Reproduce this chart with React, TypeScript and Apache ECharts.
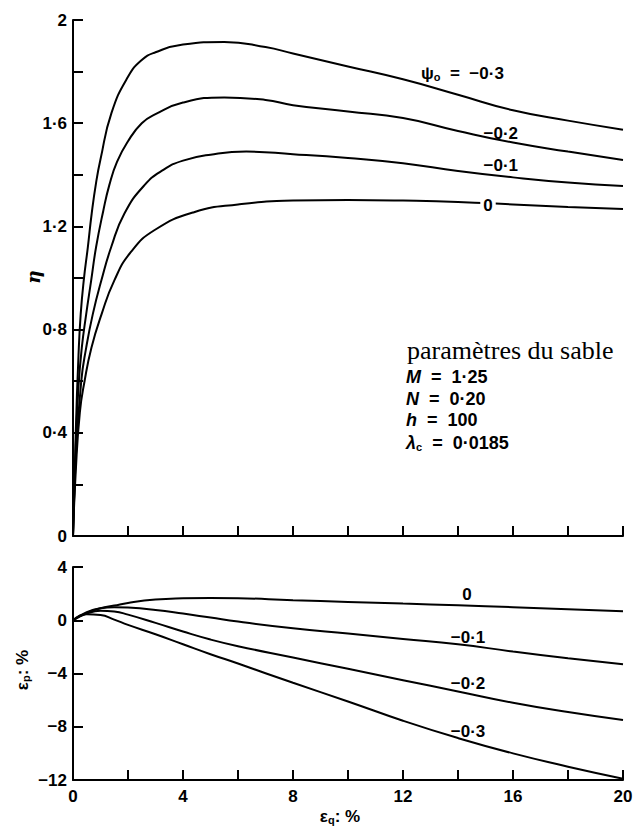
import React, { useEffect, useRef } from 'react';
import * as echarts from 'echarts';

// ---------- data ----------
const psiLabels = ['0', '−0·1', '−0·2', '−0·3'];

// Upper plot: eta vs eps_q (%)
const etaX_0 = [0, 0.1, 0.25, 0.42, 0.67, 1.04, 1.5, 2.1, 2.97, 4.4, 6, 8, 10, 12, 14, 16, 18, 20];
const etaY_0 = [0, 0.25, 0.48, 0.6, 0.73, 0.86, 0.99, 1.1, 1.186, 1.255, 1.285, 1.3, 1.302, 1.3, 1.295, 1.285, 1.275, 1.267];

const etaX_m1 = [0, 0.1, 0.3, 0.48, 0.72, 1.03, 1.39, 1.87, 2.6, 3.3, 4, 5, 6.3, 8, 10, 12, 14, 16, 18, 20];
const etaY_m1 = [0, 0.3, 0.6, 0.73, 0.86, 0.99, 1.12, 1.25, 1.36, 1.42, 1.455, 1.478, 1.49, 1.48, 1.465, 1.445, 1.415, 1.39, 1.37, 1.357];

const etaX_m2 = [0, 0.1, 0.2, 0.32, 0.48, 0.66, 0.84, 1.1, 1.32, 1.6, 2, 2.5, 3, 4, 5.5, 7, 8, 10, 12, 14, 16, 18, 20];
const etaY_m2 = [0, 0.35, 0.58, 0.73, 0.86, 0.99, 1.12, 1.26, 1.36, 1.45, 1.53, 1.6, 1.635, 1.68, 1.7, 1.69, 1.67, 1.645, 1.62, 1.57, 1.525, 1.49, 1.457];

const etaX_m3 = [0, 0.1, 0.2, 0.28, 0.39, 0.54, 0.68, 0.84, 1.0, 1.4, 2, 2.5, 3, 4, 5.5, 7, 8, 10, 12, 14, 16, 18, 20];
const etaY_m3 = [0, 0.4, 0.7, 0.86, 0.99, 1.12, 1.25, 1.37, 1.46, 1.64, 1.78, 1.845, 1.875, 1.905, 1.915, 1.895, 1.87, 1.82, 1.77, 1.71, 1.65, 1.61, 1.575];

// Lower plot: eps_p (%) vs eps_q (%)
const epX = [0, 0.5, 1, 1.5, 2, 3, 4, 5, 6, 8, 10, 12, 14, 16, 18, 20];
const epY_0 = [0, 0.55, 0.9, 1.1, 1.3, 1.55, 1.65, 1.68, 1.66, 1.5, 1.38, 1.25, 1.12, 0.98, 0.83, 0.68];
const epY_m1 = [0, 0.6, 0.9, 0.98, 0.95, 0.77, 0.5, 0.2, -0.1, -0.6, -1.0, -1.4, -1.8, -2.35, -2.85, -3.3];
const epY_m2 = [0, 0.5, 0.72, 0.66, 0.42, -0.2, -0.85, -1.45, -1.95, -2.8, -3.65, -4.5, -5.35, -6.2, -6.9, -7.5];
const epY_m3 = [0, 0.45, 0.4, 0.05, -0.35, -1.05, -1.8, -2.55, -3.25, -4.7, -6.1, -7.55, -8.85, -10.0, -11.0, -11.9];

// axis ranges / ticks
const xMin = 0, xMax = 20, xStep = 2;
const etaMin = 0, etaMax = 2, etaStep = 0.2;
const epMin = -12, epMax = 4, epStep = 4;

const paramLines = ['M', 'N', 'h', 'λ'];
const paramValues = ['1·25', '0·20', '100', '0·0185'];

// ---------- helpers ----------
const pairs = (xs: number[], ys: number[]) => xs.map((x, i) => [x, ys[i]]);
const fmt = (v: number) => {
  const r = Math.round(v * 10) / 10;
  const s = Number.isInteger(r) ? String(r) : r.toFixed(1).replace('.', '·');
  return s.replace('-', '−');
};

const SANS = 'Liberation Sans';
const labelFont = { fontFamily: SANS, fontWeight: 'bold' as const, fontSize: 17, color: '#000' };
const axisLine = { show: true, onZero: false, lineStyle: { color: '#000', width: 2 } };
const axisTick = { show: true, inside: true, length: 10, lineStyle: { color: '#000', width: 2 } };

const lineSeries = (data: number[][], xi: number) => ({
  type: 'line',
  xAxisIndex: xi,
  yAxisIndex: xi,
  data,
  smooth: 0.5,
  showSymbol: false,
  symbol: 'none',
  lineStyle: { color: '#000', width: 2 },
  z: 3,
});

const subRich = {
  a: { fontFamily: SANS, fontWeight: 'bold', fontSize: 17, color: '#000' },
  s: { fontFamily: SANS, fontWeight: 'bold', fontSize: 11, color: '#000', padding: [8, 0, 0, 0] },
};

export default function App() {
  const ref = useRef<HTMLDivElement>(null);
  useEffect(() => {
    const chart = echarts.init(ref.current!, null, { renderer: 'svg' });
    const option: any = {
      animation: false,
      backgroundColor: '#fff',
      grid: [
        { left: 73, top: 20, width: 550, height: 516 },
        { left: 73, top: 567, width: 550, height: 213 },
      ],
      xAxis: [
        {
          type: 'value', gridIndex: 0, min: xMin, max: xMax, interval: xStep,
          axisLine, axisTick, axisLabel: { show: false }, splitLine: { show: false },
        },
        {
          type: 'value', gridIndex: 1, min: xMin, max: xMax, interval: xStep,
          axisLine, axisTick,
          axisLabel: {
            ...labelFont, margin: 8,
            formatter: (v: number) => (Math.round(v) % 4 === 0 ? fmt(v) : ''),
          },
          splitLine: { show: false },
        },
      ],
      yAxis: [
        {
          type: 'value', gridIndex: 0, min: etaMin, max: etaMax, interval: etaStep,
          axisLine, axisTick,
          axisLabel: {
            ...labelFont, margin: 6,
            formatter: (v: number) => (Math.round(v * 10) % 4 === 0 ? fmt(v) : ''),
          },
          splitLine: { show: false },
        },
        {
          type: 'value', gridIndex: 1, min: epMin, max: epMax, interval: epStep,
          axisLine, axisTick,
          axisLabel: { ...labelFont, margin: 6, formatter: (v: number) => fmt(v) },
          splitLine: { show: false },
        },
      ],
      series: [
        lineSeries(pairs(etaX_0, etaY_0), 0),
        lineSeries(pairs(etaX_m1, etaY_m1), 0),
        lineSeries(pairs(etaX_m2, etaY_m2), 0),
        lineSeries(pairs(etaX_m3, etaY_m3), 0),
        lineSeries(pairs(epX, epY_0), 1),
        lineSeries(pairs(epX, epY_m1), 1),
        lineSeries(pairs(epX, epY_m2), 1),
        lineSeries(pairs(epX, epY_m3), 1),
      ],
      graphic: [
        // axis names
        {
          type: 'text', x: 33, y: 277, rotation: Math.PI / 2,
          style: { text: 'η', fontFamily: 'DejaVu Serif', fontStyle: 'italic', fontWeight: 'bold', fontSize: 19, fill: '#000', align: 'center', verticalAlign: 'middle' },
        },
        {
          type: 'text', x: 22, y: 670, rotation: Math.PI / 2,
          style: { text: '{a|ε}{s|p}{a|: %}', rich: subRich, align: 'center', verticalAlign: 'middle' },
        },
        {
          type: 'text', x: 340, y: 816,
          style: { text: '{a|ε}{s|q}{a|: %}', rich: subRich, align: 'center', verticalAlign: 'middle' },
        },
        // curve labels, upper plot
        {
          type: 'text', x: 421, y: 73, z: 10,
          style: { text: '{a|ψ}{s|o}{a|  =  −0·3}', rich: subRich, align: 'left', verticalAlign: 'middle' },
        },
        { type: 'text', x: 518, y: 133, z: 10, style: { text: psiLabels[2], ...labelFont, fill: '#000', align: 'right', verticalAlign: 'middle' } },
        { type: 'text', x: 518, y: 165, z: 10, style: { text: psiLabels[1], ...labelFont, fill: '#000', align: 'right', verticalAlign: 'middle' } },
        { type: 'text', x: 488, y: 205, z: 10, style: { text: psiLabels[0], ...labelFont, fill: '#000', backgroundColor: '#fff', padding: [0, 3], align: 'center', verticalAlign: 'middle' } },
        // curve labels, lower plot
        { type: 'text', x: 467, y: 594, z: 10, style: { text: psiLabels[0], ...labelFont, fill: '#000', align: 'center', verticalAlign: 'middle' } },
        { type: 'text', x: 468, y: 637, z: 10, style: { text: psiLabels[1], ...labelFont, fill: '#000', align: 'center', verticalAlign: 'middle' } },
        { type: 'text', x: 468, y: 683, z: 10, style: { text: psiLabels[2], ...labelFont, fill: '#000', align: 'center', verticalAlign: 'middle' } },
        { type: 'text', x: 468, y: 731, z: 10, style: { text: psiLabels[3], ...labelFont, fill: '#000', align: 'center', verticalAlign: 'middle' } },
        // parameters block
        {
          type: 'text', x: 407, y: 350,
          style: { text: 'paramètres du sable', fontFamily: 'Liberation Serif', fontSize: 26, fill: '#000', align: 'left', verticalAlign: 'middle' },
        },
        ...paramLines.map((p, i) => ({
          type: 'text', x: 406, y: [377, 399, 420, 443][i],
          style: {
            text: p === 'λ' ? `{i|λ}{s|c}{a|  =  ${paramValues[i]}}` : `{i|${p}}{a|  =  ${paramValues[i]}}`,
            rich: {
              a: { ...subRich.a, fontSize: 18 },
              s: subRich.s,
              i: { fontFamily: SANS, fontWeight: 'bold', fontStyle: 'italic', fontSize: 18, color: '#000' },
            },
            align: 'left', verticalAlign: 'middle',
          },
        })),
      ],
    };
    chart.setOption(option);
    return () => chart.dispose();
  }, []);
  return <div ref={ref} style={{ position: 'fixed', left: 0, top: 0, width: 636, height: 830, background: '#fff' }} />;
}
